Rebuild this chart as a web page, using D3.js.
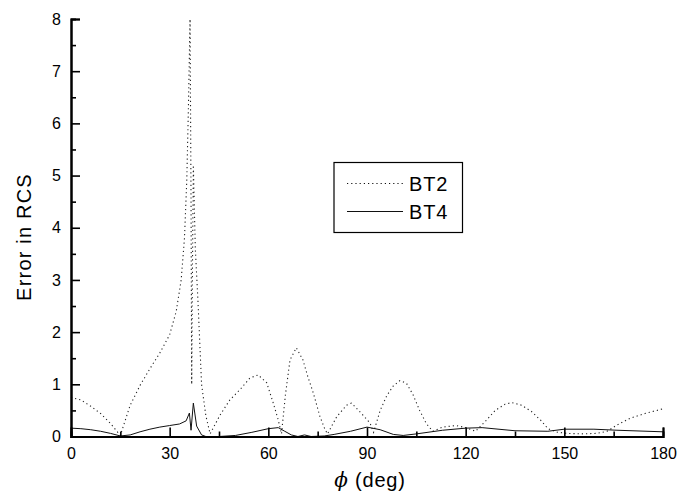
<!DOCTYPE html>
<html>
<head>
<meta charset="utf-8">
<script src="https://cdn.jsdelivr.net/npm/d3@7"></script>
<style>
  body { margin: 0; background: #fff; }
  svg { font-family: "Liberation Sans", Arial, sans-serif; }
</style>
</head>
<body>
<svg id="chart" width="690" height="496"></svg>
<script>
// Error in RCS vs phi: BT2 (dotted) and BT4 (solid)
const bt2Phi = [0, 3, 6, 9, 12, 15, 18, 21, 24, 27, 30, 32, 33.5, 34.5, 35.2, 35.7, 36.2, 36.5, 36.7, 36.9, 37.2, 37.8, 38.6, 39.7, 41, 42.3,
  45.3, 48.3, 51.4, 54.4, 56.9, 59.5, 61.5, 63, 64, 65.2, 66.6, 68.5, 70.5, 72, 73.7, 75.7, 77.2, 78, 80.8, 83.8, 85.3, 88.2, 90.9, 92,
  94, 96, 98, 100, 102, 104, 106, 108, 110, 113, 117, 120, 123, 126, 129, 132, 134, 137, 140, 143, 145, 148, 151, 155, 160, 163,
  166, 170, 175, 180];
const bt2Err = [0.75, 0.7, 0.58, 0.44, 0.25, 0.02, 0.6, 0.98, 1.3, 1.6, 1.95, 2.4, 3.0, 3.8, 4.9, 6.3, 8.0, 4.5, 1.0, 3.0, 5.2, 3.6, 2.6, 1.0, 0.4, 0.05,
  0.41, 0.7, 0.9, 1.12, 1.18, 1.03, 0.64, 0.32, 0.05, 0.8, 1.47, 1.7, 1.47, 1.15, 0.83, 0.38, 0.14, 0.05, 0.38, 0.6, 0.64, 0.45, 0.26, 0.08,
  0.5, 0.78, 0.97, 1.07, 1.02, 0.8, 0.5, 0.25, 0.1, 0.18, 0.21, 0.17, 0.1, 0.29, 0.5, 0.62, 0.65, 0.6, 0.48, 0.3, 0.15, 0.08, 0.06, 0.05, 0.06, 0.1,
  0.22, 0.35, 0.45, 0.53];

const bt4Phi = [0, 3, 6, 9, 12, 15, 18, 21, 24, 27, 30, 33, 35, 36, 36.5, 37.2, 38.2, 39.7, 41, 45, 50, 55, 60, 63, 65, 67, 69, 71, 73, 77,
  80, 85, 90, 94, 98, 101, 105, 113, 120, 125, 135, 145, 150, 159, 166, 180];
const bt4Err = [0.16, 0.15, 0.13, 0.1, 0.06, 0.01, 0.03, 0.09, 0.14, 0.18, 0.21, 0.24, 0.3, 0.45, 0.12, 0.64, 0.2, 0.03, 0.0, 0.0, 0.02, 0.08, 0.15, 0.17, 0.1, 0.03, 0.0, 0.03, 0.0, 0.01,
  0.04, 0.1, 0.18, 0.13, 0.04, 0.02, 0.05, 0.12, 0.16, 0.17, 0.11, 0.1, 0.14, 0.14, 0.12, 0.09];

const xMajor = [0, 30, 60, 90, 120, 150, 180];
const xMinor = [15, 45, 75, 105, 135, 165];
const yMajor = [0, 1, 2, 3, 4, 5, 6, 7, 8];
const yMinor = [0.5, 1.5, 2.5, 3.5, 4.5, 5.5, 6.5, 7.5];

const svg = d3.select("#chart");

const x = d3.scaleLinear().domain([0, 180]).range([71, 663]);
const y = d3.scaleLinear().domain([0, 8]).range([436.5, 19]);

// ---- curves ----
const line = d3.line().x(d => x(d[0])).y(d => y(d[1]));

svg.append("path")
  .datum(d3.zip(bt2Phi, bt2Err))
  .attr("d", line)
  .attr("fill", "none")
  .attr("stroke", "#222")
  .attr("stroke-width", 1.1)
  .attr("stroke-dasharray", "1.2,3");

svg.append("path")
  .datum(d3.zip(bt4Phi, bt4Err))
  .attr("d", line)
  .attr("fill", "none")
  .attr("stroke", "#111")
  .attr("stroke-width", 1);

// ---- axes (ticks point inward) ----
const xAxis = svg.append("g").attr("transform", `translate(0,${y(0)})`);
xAxis.call(d3.axisBottom(x).tickValues(xMajor).tickSize(-9).tickFormat(d3.format("d")));
xAxis.append("g").call(d3.axisBottom(x).tickValues(xMinor).tickSize(-5).tickFormat(""));

const yAxis = svg.append("g").attr("transform", `translate(${x(0)},0)`);
yAxis.call(d3.axisLeft(y).tickValues(yMajor).tickSize(-9).tickFormat(d3.format("d")));
yAxis.append("g").call(d3.axisLeft(y).tickValues(yMinor).tickSize(-5).tickFormat(""));

svg.selectAll(".domain").attr("stroke", "#000").attr("stroke-width", 2);
svg.selectAll(".tick line").attr("stroke", "#000").attr("stroke-width", 1.6);

xAxis.selectAll(".tick text")
  .attr("y", 11)
  .attr("font-size", 16)
  .attr("fill", "#000");
yAxis.selectAll(".tick text")
  .attr("x", -10)
  .attr("font-size", 16)
  .attr("fill", "#000");

// ---- axis titles ----
const xTitle = svg.append("text")
  .attr("x", 370)
  .attr("y", 487)
  .attr("text-anchor", "middle")
  .attr("font-size", 20)
  .attr("letter-spacing", 0.8);
xTitle.append("tspan").attr("font-style", "italic").attr("font-family", "DejaVu Serif, serif").text("\u03D5");
xTitle.append("tspan").text(" (deg)");

svg.append("text")
  .attr("transform", "translate(31,237) rotate(-90)")
  .attr("text-anchor", "middle")
  .attr("font-size", 20)
  .attr("letter-spacing", 1.2)
  .text("Error in RCS");

// ---- legend ----
const legend = svg.append("g");
legend.append("rect")
  .attr("x", 334).attr("y", 162.5)
  .attr("width", 128.5).attr("height", 70)
  .attr("fill", "#fff")
  .attr("stroke", "#000")
  .attr("stroke-width", 1.2);

const legendItems = [
  { name: "BT2", dash: "1.2,3", yy: 183.5 },
  { name: "BT4", dash: null, yy: 211.5 }
];
legendItems.forEach(it => {
  legend.append("line")
    .attr("x1", 347).attr("x2", 403)
    .attr("y1", it.yy).attr("y2", it.yy)
    .attr("stroke", "#111")
    .attr("stroke-width", 1)
    .attr("stroke-dasharray", it.dash);
  legend.append("text")
    .attr("x", 409)
    .attr("y", it.yy + 7)
    .attr("font-size", 20)
    .attr("letter-spacing", 0.8)
    .text(it.name);
});
</script>
</body>
</html>
